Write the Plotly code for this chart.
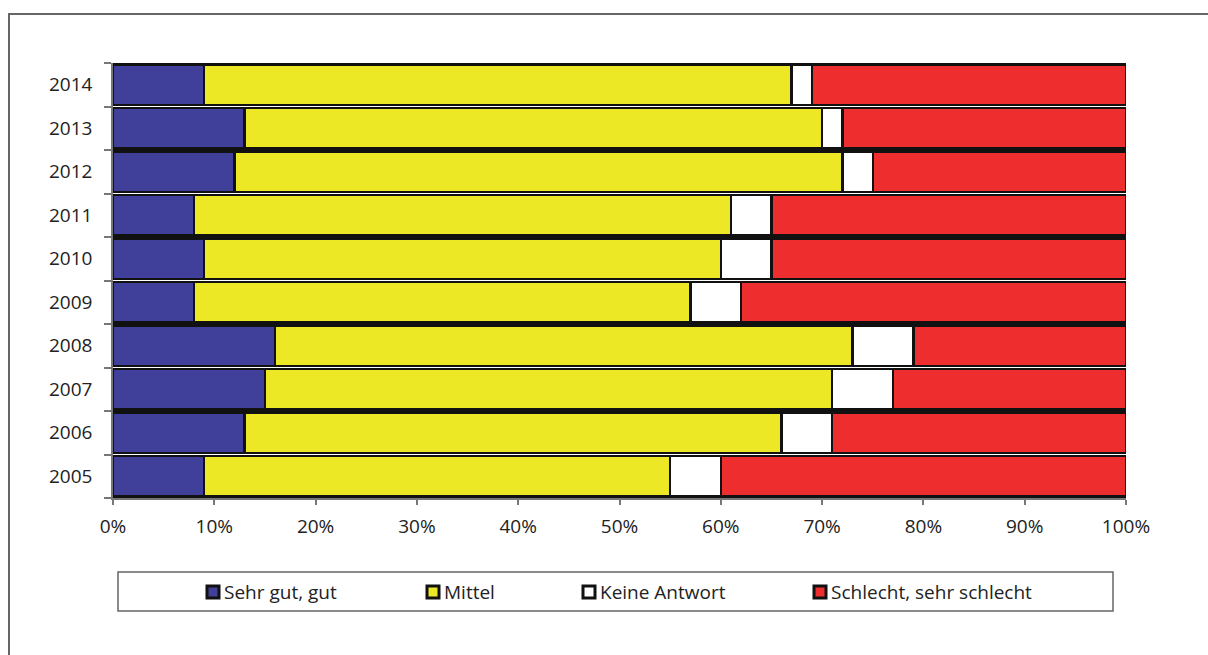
import plotly.graph_objects as go

# Survey answers per year, in percent
years = ["2005", "2006", "2007", "2008", "2009", "2010", "2011", "2012", "2013", "2014"]
sehr_gut_gut = [9, 13, 15, 16, 8, 9, 8, 12, 13, 9]
mittel = [46, 53, 56, 57, 49, 51, 53, 60, 57, 58]
keine_antwort = [5, 5, 6, 6, 5, 5, 4, 3, 2, 2]
schlecht = [40, 29, 23, 21, 38, 35, 35, 25, 28, 31]

series_names = ["Sehr gut, gut", "Mittel", "Keine Antwort", "Schlecht, sehr schlecht"]
series_colors = ["#40409A", "#ECE826", "#FFFFFF", "#EE2E2E"]
x_ticks = [0, 10, 20, 30, 40, 50, 60, 70, 80, 90, 100]

W, H = 1208, 655
L, R, T, B = 113, 1126, 63, 498  # plot area in pixels

def px(x):
    return (x - L) / (R - L)

def py(y):
    return (B - y) / (B - T)

FONT = "Open Sans, Liberation Sans, sans-serif"
TXT = "#222222"

fig = go.Figure()
for name, vals, col in zip(series_names, [sehr_gut_gut, mittel, keine_antwort, schlecht], series_colors):
    fig.add_trace(go.Bar(
        y=years, x=vals, name=name, orientation="h",
        marker=dict(color=col, line=dict(color="#111111", width=2.5)),
        showlegend=False,
    ))

fig.update_layout(
    width=W, height=H,
    margin=dict(l=L, r=W - R, t=T, b=H - B),
    paper_bgcolor="white", plot_bgcolor="white",
    barmode="stack", bargap=0.08,
    font=dict(family=FONT, size=19, color=TXT),
    xaxis=dict(
        range=[0, 100], tickvals=x_ticks, ticktext=[f"{v}%" for v in x_ticks],
        showgrid=False, zeroline=False, showline=True, linecolor="#777777", linewidth=1.5,
        ticks="outside", ticklen=5, tickcolor="#777777", tickwidth=1.5,
        tickfont=dict(size=19, family=FONT, color=TXT),
        ticklabelstandoff=5,
    ),
    yaxis=dict(
        type="category", categoryorder="array", categoryarray=years,
        showgrid=False, zeroline=False, showline=True, linecolor="#777777", linewidth=1.5,
        ticks="outside", ticklen=7, tickcolor="#777777", tickwidth=1.5, tickson="boundaries",
        tickfont=dict(size=19, family=FONT, color=TXT),
        ticklabelstandoff=15,
    ),
)

# Outer chart frame
fig.add_shape(type="rect", xref="paper", yref="paper",
              x0=px(9), x1=px(1230), y0=py(680), y1=py(14),
              line=dict(color="#666666", width=2), fillcolor="rgba(0,0,0,0)", layer="below")

# Legend box with entries
fig.add_shape(type="rect", xref="paper", yref="paper",
              x0=px(118), x1=px(1113), y0=py(611), y1=py(572),
              line=dict(color="#666666", width=1.5), fillcolor="white")

legend_x = [206, 426, 582, 813]
ly = 592
for name, col, lx in zip(series_names, series_colors, legend_x):
    fig.add_shape(type="rect", xref="paper", yref="paper",
                  x0=px(lx + 1), x1=px(lx + 13), y0=py(ly + 6), y1=py(ly - 6),
                  line=dict(color="#111111", width=3), fillcolor=col)
    fig.add_annotation(xref="paper", yref="paper", x=px(lx + 16), y=py(ly),
                       text=name, showarrow=False, xanchor="left", yanchor="middle",
                       font=dict(family=FONT, size=19, color=TXT))

fig.write_html("out.html")
